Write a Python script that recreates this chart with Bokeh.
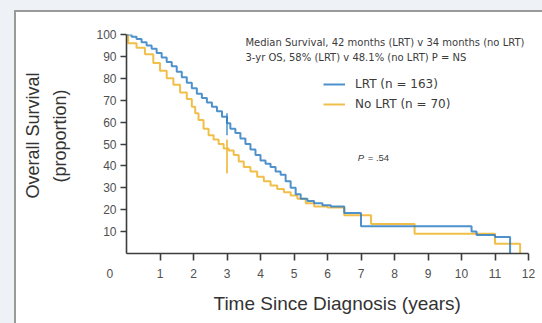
from bokeh.embed import file_html
from bokeh.models import FixedTicker, Label, Legend, LegendItem, Title
from bokeh.plotting import figure
from bokeh.resources import INLINE

# Kaplan-Meier step data: event times (years) and survival (%) after each step
lrt_time = [0.15, 0.3, 0.45, 0.6, 0.75, 0.9, 1.05, 1.2, 1.35, 1.5, 1.65, 1.8, 1.95,
            2.1, 2.25, 2.4, 2.55, 2.7, 2.85, 3.0, 3.1, 3.25, 3.4, 3.55, 3.7, 3.85,
            4.0, 4.15, 4.3, 4.45, 4.6, 4.75, 4.9, 5.05, 5.2, 5.4, 5.6, 5.85, 6.1,
            6.5, 7.0, 10.3, 10.45, 11.0, 11.45]
lrt_surv = [99, 98, 96.5, 95, 93.5, 91.5, 89.5, 87.5, 85.5, 83, 80.5, 78, 75.5,
            73, 71, 69, 67, 65, 62.5, 59.5, 57, 55, 52.5, 50, 47.5, 45,
            42.5, 41, 39.5, 37.5, 36, 33, 30, 27, 25, 24, 23, 22, 21.5,
            18.5, 12.5, 10, 8.5, 7.5, 0]

nolrt_time = [0.05, 0.3, 0.55, 0.8, 1.0, 1.2, 1.4, 1.6, 1.8, 1.95, 2.05, 2.15, 2.3,
              2.45, 2.6, 2.75, 2.9, 3.05, 3.2, 3.35, 3.5, 3.7, 3.9, 4.1, 4.3, 4.5,
              4.7, 4.9, 5.1, 5.35, 5.6, 6.0, 6.5, 7.3, 8.6, 11.0, 11.75]
nolrt_surv = [96, 94, 91, 87, 83.5, 80, 77, 73.5, 70.5, 67, 64, 61, 57,
              54, 52, 50, 48, 47, 45, 42, 39.5, 37.5, 35, 33, 31, 29.5,
              28, 26.5, 25, 23, 21.5, 21, 17.5, 13.5, 9, 4.5, 0]

# 3-year survival markers (low, high)
mark_time = 3.0
lrt_mark = [54, 64]
nolrt_mark = [36.5, 52]

x_labels = [str(i) for i in range(0, 13)]
y_ticks = list(range(10, 101, 10))

BLUE = "#2f7ec2"
ORANGE = "#efb835"
TEXT = "#3c3c3c"
SANS = "Liberation Sans, Arial, sans-serif"
WIDE = "DejaVu Sans, Verdana, sans-serif"
NBSP = "\u00a0"

p = figure(width=542, height=323, x_range=(0, 12), y_range=(0, 100),
           output_backend="svg", toolbar_location=None,
           min_border_left=126, min_border_right=14, min_border_top=34,
           min_border_bottom=70)
# light page margin on top/left, grey frame line, white panel
p.border_fill_alpha = 0
p.styles = {
    "background":
        "linear-gradient(#eef1f5,#eef1f5) 0 0/100% 10px no-repeat,"
        "linear-gradient(#eef1f5,#eef1f5) 0 0/14px 100% no-repeat,"
        "linear-gradient(#9a9a9a,#9a9a9a) 14px 10px/100% 2px no-repeat,"
        "linear-gradient(#9a9a9a,#9a9a9a) 14px 10px/2px 100% no-repeat,"
        "#ffffff"
}
p.background_fill_color = "white"
p.outline_line_color = None
p.grid.visible = False

for ax in (p.xaxis[0], p.yaxis[0]):
    ax.axis_line_color = TEXT
    ax.axis_line_width = 1.6
    ax.major_tick_line_color = TEXT
    ax.major_tick_line_width = 1.6
    ax.major_tick_in = 0
    ax.major_label_text_color = "#505050"
    ax.major_label_text_font = SANS
    ax.major_label_text_font_size = "12px"

# x axis: labels on the major ticks (0..12), visible tick marks on the minor ticks (1..12)
p.xaxis.ticker = FixedTicker(ticks=list(range(0, 13)), minor_ticks=list(range(1, 13)))
p.xaxis.major_tick_out = 0
p.xaxis.minor_tick_in = 0
p.xaxis.minor_tick_out = 7
p.xaxis.minor_tick_line_color = TEXT
p.xaxis.minor_tick_line_width = 1.6
p.xaxis.major_label_standoff = 6
overrides = {i: lab for i, lab in enumerate(x_labels)}
overrides[0] = x_labels[0] + NBSP * 10
p.xaxis.major_label_overrides = overrides

p.yaxis.ticker = FixedTicker(ticks=y_ticks)
p.yaxis.minor_tick_line_color = None
p.yaxis.major_tick_out = 6
p.yaxis.major_label_standoff = 4
# blank spacer label widens the axis panel so the titles sit further out
p.yaxis.axis_label = NBSP
p.yaxis.axis_label_text_font_size = "2px"
p.yaxis.axis_label_standoff = 14

title_style = dict(text_font=SANS, text_font_style="normal", text_color="#333333")
p.add_layout(Title(text="Time Since Diagnosis (years)", align="left", offset=87,
                   text_font_size="19px", standoff=15, **title_style), "below")
p.add_layout(Title(text="(proportion)", align="left", offset=71,
                   text_font_size="18px", standoff=10, **title_style), "left")
p.add_layout(Title(text="Overall Survival", align="left", offset=55,
                   text_font_size="18px", standoff=0, **title_style), "left")

r_no = p.step([0] + nolrt_time, [100] + nolrt_surv, mode="after",
              line_color=ORANGE, line_width=2, line_alpha=0.9)
r_lrt = p.step([0] + lrt_time, [100] + lrt_surv, mode="after",
               line_color=BLUE, line_width=2, line_alpha=0.85)
p.segment(x0=[mark_time], y0=[nolrt_mark[0]], x1=[mark_time], y1=[nolrt_mark[1]],
          line_color=ORANGE, line_width=1.6)
p.segment(x0=[mark_time], y0=[lrt_mark[0]], x1=[mark_time], y1=[lrt_mark[1]],
          line_color=BLUE, line_width=1.6, line_alpha=0.8)

legend = Legend(items=[LegendItem(label="LRT (n = 163)", renderers=[r_lrt]),
                       LegendItem(label="No LRT (n = 70)", renderers=[r_no])],
                location=(197, 142), padding=0, margin=0, spacing=6,
                glyph_width=22, glyph_height=12, label_height=12, label_standoff=10,
                border_line_alpha=0, background_fill_alpha=0,
                label_text_font=WIDE, label_text_font_size="12px",
                label_text_color=TEXT)
p.add_layout(legend)

notes = [(3.55, 96.3, "Median Survival, 42 months (LRT) v 34 months (no LRT)"),
         (3.55, 89.5, "3-yr OS, 58% (LRT) v 48.1% (no LRT) P = NS")]
for xpos, ypos, txt in notes:
    p.add_layout(Label(x=xpos, y=ypos, text=txt, text_baseline="middle",
                       text_font=WIDE, text_font_size="10px", text_color=TEXT))

p.add_layout(Label(x=6.9, y=43.8, text="P", text_baseline="middle",
                   text_font=SANS, text_font_style="italic",
                   text_font_size="9.5px", text_color=TEXT))
p.add_layout(Label(x=7.2, y=43.8, text="= .54", text_baseline="middle",
                   text_font=SANS, text_font_size="9.5px", text_color=TEXT))

open("out.html", "w").write(file_html(p, INLINE))
